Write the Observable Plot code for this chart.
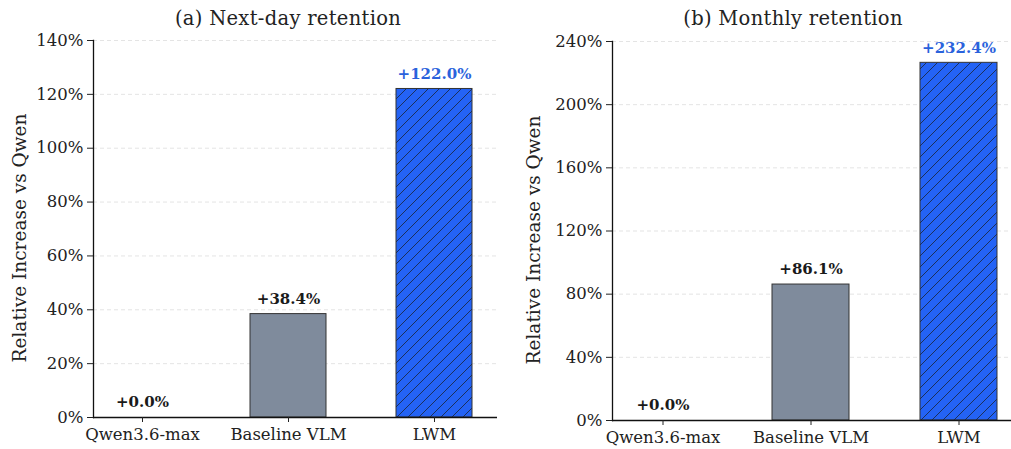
<!DOCTYPE html>
<html>
<head>
<meta charset="utf-8">
<script src="https://cdn.jsdelivr.net/npm/d3@7"></script>
<script src="https://cdn.jsdelivr.net/npm/@observablehq/plot@0.6"></script>
<style>
  html, body { margin: 0; padding: 0; background: #fff; overflow: hidden; }
  #wrap { position: relative; width: 1011px; height: 449px; overflow: hidden; font-family: "DejaVu Serif", serif; }
  .panel { position: absolute; top: 0; }
  .panel svg { max-width: none !important; }
  .title { position: absolute; font-size: 19.5px; letter-spacing: 0.3px; color: #222; white-space: nowrap; transform: translateX(-50%); top: 7px; }
  .ylab { position: absolute; font-size: 18.5px; color: #222; white-space: nowrap; transform: translate(-50%, -50%) rotate(-90deg); }
</style>
</head>
<body>
<div id="wrap"></div>
<svg width="0" height="0" style="position:absolute">
  <defs>
    <pattern id="hatch" patternUnits="userSpaceOnUse" width="11" height="11">
      <rect width="11" height="11" fill="#2463f5"></rect>
      <path d="M-1,1 l2,-2 M0,11 l11,-11 M10,12 l2,-2" stroke="#1b2a4a" stroke-width="0.9"></path>
    </pattern>
  </defs>
</svg>
<script>
const models = ["Qwen3.6-max", "Baseline VLM", "LWM"];
const nextDayValues = [0, 38.4, 122.0];
const nextDayLabels = ["+0.0%", "+38.4%", "+122.0%"];
const monthlyValues = [0, 86.1, 226.5];
const monthlyLabels = ["+0.0%", "+86.1%", "+232.4%"];
const nextDayTicks = [0, 20, 40, 60, 80, 100, 120, 140];
const monthlyTicks = [0, 40, 80, 120, 160, 200, 240];
const titles = ["(a)  Next-day retention", "(b)  Monthly retention"];
const yLabel = "Relative Increase vs Qwen";

const fills = ["#7f8b9c", "#7f8b9c", "url(#hatch)"];
const labelColors = ["#1a1a1a", "#1a1a1a", "#2a62dc"];

function panel(values, labels, ticks, opts) {
  const data = models.map((m, i) => ({model: m, value: values[i], label: labels[i], fill: fills[i], lc: labelColors[i], i}));
  return Plot.plot({
    width: opts.width,
    height: 449,
    marginLeft: opts.marginLeft,
    marginRight: opts.marginRight,
    marginTop: opts.marginTop,
    marginBottom: opts.marginBottom,
    style: {fontFamily: "DejaVu Serif, serif", fontSize: "16.5px", color: "#222", background: "transparent", maxWidth: "none"},
    x: {domain: models, paddingInner: 0.48, paddingOuter: 0.12, align: 0.31},
    y: {domain: [0, ticks[ticks.length - 1]]},
    marks: [
      Plot.gridY(ticks, {stroke: "#bbb", strokeOpacity: 0.5, strokeDasharray: "4,3", strokeWidth: 0.8}),
      Plot.barY(data.filter(d => d.value > 0), {x: "model", y: "value", fill: d => d.fill, stroke: "#333", strokeWidth: 1}),
      Plot.text(data, {x: "model", y: "value", text: "label", fill: d => d.lc, fontWeight: "bold", fontSize: 15, dy: -15}),
      Plot.ruleY([0], {stroke: "#111", strokeWidth: 1.3}),
      Plot.frame({anchor: "left", stroke: "#111", strokeWidth: 1.3}),
      Plot.axisY(ticks, {tickFormat: d => d + "%", tickSize: 6, tickPadding: 4, fontSize: 16.5, label: null}),
      Plot.axisX({tickSize: 5, tickPadding: 6, fontSize: 16.5, label: null})
    ]
  });
}

const wrap = document.getElementById("wrap");

const left = panel(nextDayValues, nextDayLabels, nextDayTicks,
  {width: 505, marginLeft: 93, marginRight: 8, marginTop: 40, marginBottom: 32});
const lp = document.createElement("div"); lp.className = "panel"; lp.style.left = "0px"; lp.style.width = "505px"; lp.appendChild(left); wrap.appendChild(lp);

const right = panel(monthlyValues, monthlyLabels, monthlyTicks,
  {width: 530, marginLeft: 107, marginRight: 12, marginTop: 41, marginBottom: 29});
const rp = document.createElement("div"); rp.className = "panel"; rp.style.left = "505px"; rp.style.width = "530px"; rp.appendChild(right); wrap.appendChild(rp);

[[titles[0], 288], [titles[1], 793]].forEach(([t, x]) => {
  const d = document.createElement("div"); d.className = "title"; d.textContent = t; d.style.left = x + "px"; wrap.appendChild(d);
});
[[19, 238], [533, 240]].forEach(([x, y]) => {
  const d = document.createElement("div"); d.className = "ylab"; d.textContent = yLabel; d.style.left = x + "px"; d.style.top = y + "px"; wrap.appendChild(d);
});
</script>
</body>
</html>
